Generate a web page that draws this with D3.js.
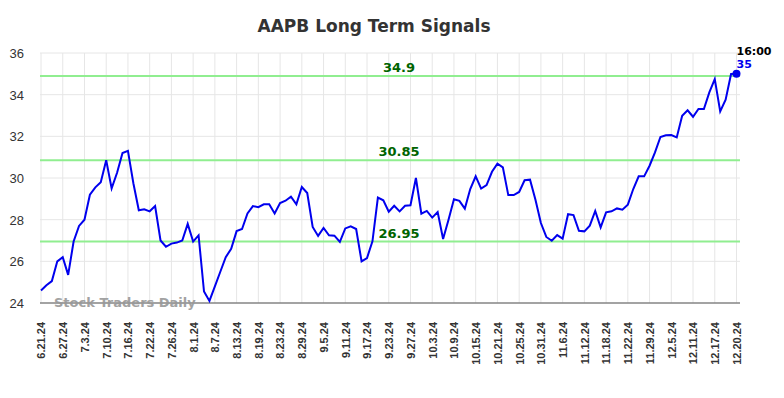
<!DOCTYPE html>
<html>
<head>
<meta charset="utf-8">
<script src="https://cdn.jsdelivr.net/npm/d3@7"></script>
<style>
  body { margin: 0; background: #fff; }
  svg { display: block; font-family: "DejaVu Sans", sans-serif; }
  .grid line { stroke: #e6e6e6; stroke-width: 1; }
  .ytick text { fill: #333; font-size: 13px; }
  .xtick text { fill: #333; font-size: 11px; font-weight: bold; }
</style>
</head>
<body>
<div id="chart"></div>
<script>
// --- Data ---
const title = "AAPB Long Term Signals";

// x labels, one every 4 points
const tickLabels = ["6.21.24", "6.27.24", "7.3.24", "7.10.24", "7.16.24", "7.22.24", "7.26.24",
  "8.1.24", "8.7.24", "8.13.24", "8.19.24", "8.23.24", "8.29.24", "9.5.24", "9.11.24",
  "9.17.24", "9.23.24", "9.27.24", "10.3.24", "10.9.24", "10.15.24", "10.21.24", "10.25.24",
  "10.31.24", "11.6.24", "11.12.24", "11.18.24", "11.22.24", "11.29.24", "12.5.24",
  "12.11.24", "12.17.24", "12.20.24"];

const prices = [
  24.6, 24.85, 25.05, 26.0, 26.2, 25.35, 26.95, 27.7, 28.0, 29.2,
  29.55, 29.8, 30.85, 29.5, 30.25, 31.2, 31.3, 29.75, 28.45, 28.5,
  28.4, 28.65, 27.0, 26.7, 26.85, 26.9, 27.0, 27.8, 26.95, 27.25,
  24.55, 24.1, 24.8, 25.5, 26.2, 26.6, 27.45, 27.55, 28.3, 28.65,
  28.6, 28.74, 28.74, 28.3, 28.8, 28.91, 29.1, 28.74, 29.57, 29.28,
  27.65, 27.22, 27.6, 27.25, 27.23, 26.93, 27.58, 27.68, 27.55, 26.0,
  26.16, 26.96, 29.06, 28.93, 28.38, 28.67, 28.4, 28.67, 28.69, 30.0,
  28.29, 28.42, 28.1, 28.37, 27.07, 28.0, 28.98, 28.9, 28.53, 29.47,
  30.08, 29.49, 29.66, 30.3, 30.69, 30.51, 29.18, 29.18, 29.33, 29.89,
  29.92, 28.96, 27.84, 27.17, 26.99, 27.26, 27.09, 28.26, 28.22, 27.47,
  27.44, 27.71, 28.42, 27.63, 28.35, 28.4, 28.54, 28.48, 28.72, 29.47,
  30.08, 30.08, 30.59, 31.23, 31.97, 32.05, 32.06, 31.95, 32.99, 33.25,
  32.94, 33.31, 33.31, 34.11, 34.75, 33.2, 33.76, 34.99, 35.0
];

const signalLevels = [34.9, 30.85, 26.95];
const yTicks = [24, 26, 28, 30, 32, 34, 36];
const lastTime = "16:00";
const lastLabel = "35";

// --- Layout ---
const width = 784, height = 398;
const plot = { left: 40, right: 740, top: 53, bottom: 303 };

const svg = d3.select("#chart").append("svg")
  .attr("width", width)
  .attr("height", height);

const x = d3.scaleLinear()
  .domain([0, prices.length - 1])
  .range([41, 736.5]);

const y = d3.scaleLinear()
  .domain([24, 36])
  .range([plot.bottom, plot.top]);

// title
svg.append("text")
  .attr("x", 374)
  .attr("y", 32)
  .attr("text-anchor", "middle")
  .style("font-size", "17px")
  .style("font-weight", "bold")
  .style("fill", "#333")
  .text(title);

// --- Grid ---
const grid = svg.append("g").attr("class", "grid");

grid.selectAll(".hgrid")
  .data(yTicks)
  .join("line")
  .attr("x1", plot.left)
  .attr("x2", plot.right)
  .attr("y1", d => y(d))
  .attr("y2", d => y(d));

const tickIdx = tickLabels.map((d, i) => i * 4);

grid.selectAll(".vgrid")
  .data(tickIdx)
  .join("line")
  .attr("x1", d => x(d))
  .attr("x2", d => x(d))
  .attr("y1", plot.top)
  .attr("y2", plot.bottom);

// --- Y axis labels ---
const yAxis = d3.axisLeft(y)
  .tickValues(yTicks)
  .tickSize(0)
  .tickPadding(16);

svg.append("g")
  .attr("class", "ytick")
  .attr("transform", `translate(${plot.left},0)`)
  .call(yAxis)
  .call(g => g.select(".domain").remove())
  .selectAll("text")
  .attr("dy", "0.35em");

// --- X axis labels (rotated) ---
const xAxis = d3.axisBottom(x)
  .tickValues(tickIdx)
  .tickFormat((d, i) => tickLabels[i])
  .tickSize(0);

svg.append("g")
  .attr("class", "xtick")
  .attr("transform", `translate(0,${plot.bottom})`)
  .call(xAxis)
  .call(g => g.select(".domain").remove())
  .selectAll("text")
  .attr("transform", "rotate(-90)")
  .attr("text-anchor", "end")
  .attr("x", -19)
  .attr("y", 0)
  .attr("dy", "0.35em");

// bottom axis line
svg.append("line")
  .attr("x1", plot.left)
  .attr("x2", plot.right)
  .attr("y1", plot.bottom)
  .attr("y2", plot.bottom)
  .style("stroke", "#555")
  .style("stroke-width", 1.2);

// --- Signal levels ---
svg.selectAll(".level")
  .data(signalLevels)
  .join("line")
  .attr("x1", plot.left)
  .attr("x2", plot.right)
  .attr("y1", d => y(d))
  .attr("y2", d => y(d))
  .style("stroke", "#90ee90")
  .style("stroke-width", 2);

svg.selectAll(".level-label")
  .data(signalLevels)
  .join("text")
  .attr("x", 399)
  .attr("y", d => y(d) - 4)
  .attr("text-anchor", "middle")
  .style("font-size", "13px")
  .style("font-weight", "bold")
  .style("fill", "#006400")
  .text(d => d);

// watermark
svg.append("text")
  .attr("x", 54)
  .attr("y", 307)
  .style("font-size", "13px")
  .style("font-weight", "bold")
  .style("fill", "#999")
  .style("opacity", 0.9)
  .text("Stock Traders Daily");

// --- Price line ---
const line = d3.line()
  .x((d, i) => x(i))
  .y(d => y(d));

svg.append("path")
  .datum(prices)
  .attr("d", line)
  .style("fill", "none")
  .style("stroke", "#0000ee")
  .style("stroke-width", 2);

// last point marker
const lastI = prices.length - 1;
svg.append("circle")
  .attr("cx", x(lastI))
  .attr("cy", y(prices[lastI]))
  .attr("r", 4)
  .style("fill", "#0000ee");

svg.append("text")
  .attr("x", x(lastI))
  .attr("y", 55)
  .style("font-size", "11px")
  .style("font-weight", "bold")
  .style("fill", "#000")
  .text(lastTime);

svg.append("text")
  .attr("x", x(lastI))
  .attr("y", 68)
  .style("font-size", "11px")
  .style("font-weight", "bold")
  .style("fill", "#0000ee")
  .text(lastLabel);
</script>
</body>
</html>
